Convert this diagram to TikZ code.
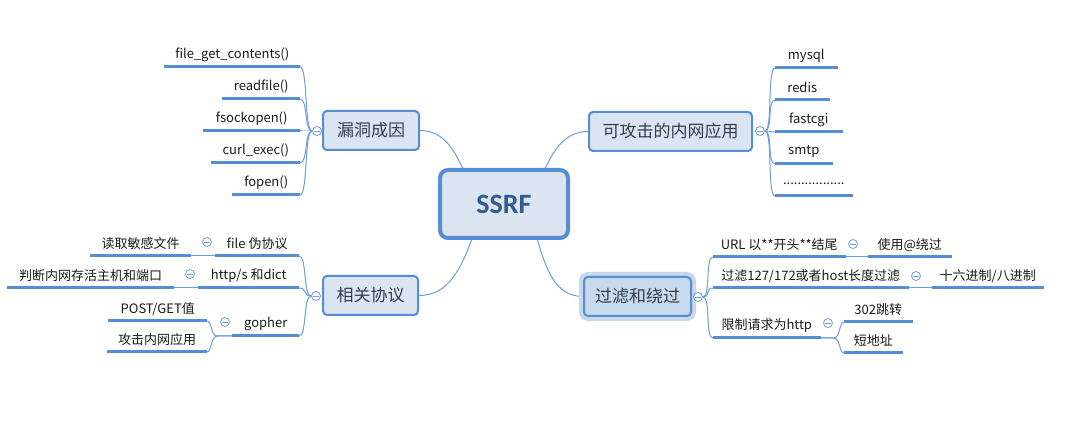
\documentclass[tikz,border=0pt]{standalone}
\usepackage{fontspec}
\setmainfont{Noto Sans CJK SC}
\newfontfamily\ssrffont{Carlito}
\definecolor{ulblue}{HTML}{558ED5}
\definecolor{cnblue}{HTML}{6D9DDA}
\definecolor{boxfill}{HTML}{DBE5F1}
\definecolor{glowfill}{HTML}{C8DAEE}
\definecolor{glowring}{HTML}{C6D8EA}
\definecolor{maintext}{HTML}{363C4A}
\definecolor{ssrftext}{HTML}{335B8E}
\definecolor{leaftext}{HTML}{1A1A1A}
\pgfdeclarelayer{bg}
\pgfsetlayers{bg,main}
\begin{document}
\begin{tikzpicture}[x=0.75pt,y=-0.75pt,
  leaf/.style={inner xsep=0pt, inner ysep=0pt, minimum height=18pt,
    font=\fontsize{9.75pt}{12pt}\selectfont, text=leaftext},
  leafL/.style={leaf, anchor=south east},
  leafR/.style={leaf, anchor=south west},
  ul/.style={draw=ulblue, line width=2.25pt},
  conn/.style={draw=cnblue, line width=0.75pt},
  mainbox/.style={draw=ulblue, fill=boxfill, line width=1.5pt, rounded corners=3pt,
    minimum height=29.25pt, inner sep=0pt, text=maintext,
    font=\fontsize{12.75pt}{15pt}\selectfont},
  mc/.style={circle, draw=cnblue, fill=white, line width=0.6pt, minimum size=6.75pt,
    inner sep=0pt, path picture={\draw[cnblue, line width=0.6pt]
      ([xshift=-2.2pt]path picture bounding box.center) --
      ([xshift=2.2pt]path picture bounding box.center);}}
]
\useasboundingbox (0,0) rectangle (1086,438);

% central
\node[draw=ulblue, fill=boxfill, line width=3pt, rounded corners=6pt,
  minimum width=96pt, minimum height=51pt, inner sep=0pt, text=ssrftext,
  font=\ssrffont\bfseries\fontsize{21pt}{24pt}\selectfont] (ssrf) at (504,204) {SSRF};

% main branches
\node[mainbox, minimum width=72pt] (lou) at (371,130.5) {漏洞成因};
\node[mainbox, minimum width=122.25pt] (kg) at (670.5,131.5) {可攻击的内网应用};
\node[mainbox, minimum width=71.25pt] (xg) at (370.5,295.5) {相关协议};
\node[mainbox, minimum width=80.25pt, fill=glowfill,
  preaction={draw=glowring, line width=7.5pt, rounded corners=3pt}] (gl) at (637.5,296.5) {过滤和绕过};

% circles
\node[mc] (lc) at (317,131) {};
\node[mc] (rc) at (760,131) {};
\node[mc] (pc) at (316,296) {};
\node[mc] (fc) at (698,297) {};
\node[mc] (pc1) at (207,242) {};
\node[mc] (pc2) at (190,274) {};
\node[mc] (pc3) at (225,322) {};
\node[mc] (fc1) at (853,244) {};
\node[mc] (fc2) at (916,276) {};
\node[mc] (fc3) at (828,323) {};

% leaves: 漏洞成因
\node[leafL, minimum width=101.25pt] (l1) at (300,67) {file\_get\_contents()};
\node[leafL, minimum width=57.75pt] (l2) at (300,99) {readfile()};
\node[leafL, minimum width=72pt] (l3) at (300,131) {fsockopen()};
\node[leafL, minimum width=66pt] (l4) at (300,163) {curl\_exec()};
\node[leafL, minimum width=50.25pt] (l5) at (300,195) {fopen()};

% leaves: 可攻击的内网应用
\node[leafR, minimum width=46.5pt] (r1) at (775,68) {mysql};
\node[leafR, minimum width=40.5pt] (r2) at (775,100) {redis};
\node[leafR, minimum width=50.25pt] (r3) at (775,132) {fastcgi};
\node[leafR, minimum width=42.75pt] (r4) at (775,164) {smtp};
\node[leafR, minimum width=57.75pt] (r5) at (775,196) {.................};

% leaves: 相关协议
\node[leafL, minimum width=62.25pt] (p1) at (299,256) {file 伪协议};
\node[leafL, minimum width=75pt] (p1c) at (191,256) {读取敏感文件};
\node[leafL, minimum width=75pt] (p2) at (299,288) {http/s 和dict};
\node[leafL, minimum width=124.5pt] (p2c) at (174,288) {判断内网存活主机和端口};
\node[leafL, minimum width=49.5pt] (p3) at (299,336) {gopher};
\node[leafL, minimum width=73.5pt] (p3a) at (207,321) {POST/GET值};
\node[leafL, minimum width=74.25pt] (p3b) at (207,352) {攻击内网应用};

% leaves: 过滤和绕过
\node[leafR, minimum width=99pt] (f1) at (713,257) {URL 以**开头**结尾};
\node[leafR, minimum width=62.25pt] (f1c) at (868,257) {使用@绕过};
\node[leafR, minimum width=146.25pt] (f2) at (713,288) {过滤127/172或者host长度过滤};
\node[leafR, minimum width=83.25pt] (f2c) at (932,288) {十六进制/八进制};
\node[leafR, minimum width=80.25pt] (f3) at (713,338) {限制请求为http};
\node[leafR, minimum width=51pt] (f3a) at (844,322) {302跳转};
\node[leafR, minimum width=43.5pt] (f3b) at (844,353) {短地址};

% underlines
\foreach \n in {l1,l2,l3,l4,l5,r1,r2,r3,r4,r5,p1,p1c,p2,p2c,p3,p3a,p3b,f1,f1c,f2,f2c,f3,f3a,f3b}
  \draw[ul] (\n.south west) -- (\n.south east);

\begin{pgfonlayer}{bg}
% main connectors
\draw[conn] (lou.east) to[out=0, in=115] (ssrf.139);
\draw[conn] (ssrf.41) to[out=65, in=180] (kg.west);
\draw[conn] (ssrf.228) to[out=249, in=0] (xg.east);
\draw[conn] (ssrf.313) to[out=286, in=180] (gl.west);
% branch connectors
\foreach \n in {l1,l2,l3,l4,l5}
  \draw[conn] (lc.west) .. controls +(-8,0) and +(8,0) .. (\n.south east);
\foreach \n in {r1,r2,r3,r4,r5}
  \draw[conn] (rc.east) .. controls +(8,0) and +(-8,0) .. (\n.south west);
\foreach \n in {p1,p2,p3}
  \draw[conn] (pc.west) .. controls +(-8,0) and +(8,0) .. (\n.south east);
\foreach \n in {f1,f2,f3}
  \draw[conn] (fc.east) .. controls +(8,0) and +(-8,0) .. (\n.south west);
\draw[conn] (p1.south west) -- (p1c.south east);
\draw[conn] (p2.south west) -- (p2c.south east);
\draw[conn] (p3.south west) -- ++(-15,0) .. controls +(-7,0) and +(5,0) .. (p3a.south east);
\draw[conn] (p3.south west) -- ++(-15,0) .. controls +(-7,0) and +(5,0) .. (p3b.south east);
\draw[conn] (f1.south east) -- (f1c.south west);
\draw[conn] (f2.south east) -- (f2c.south west);
\draw[conn] (f3.south east) -- ++(13,0) .. controls +(7,0) and +(-5,0) .. (f3a.south west);
\draw[conn] (f3.south east) -- ++(13,0) .. controls +(7,0) and +(-5,0) .. (f3b.south west);
\end{pgfonlayer}
\end{tikzpicture}
\end{document}
